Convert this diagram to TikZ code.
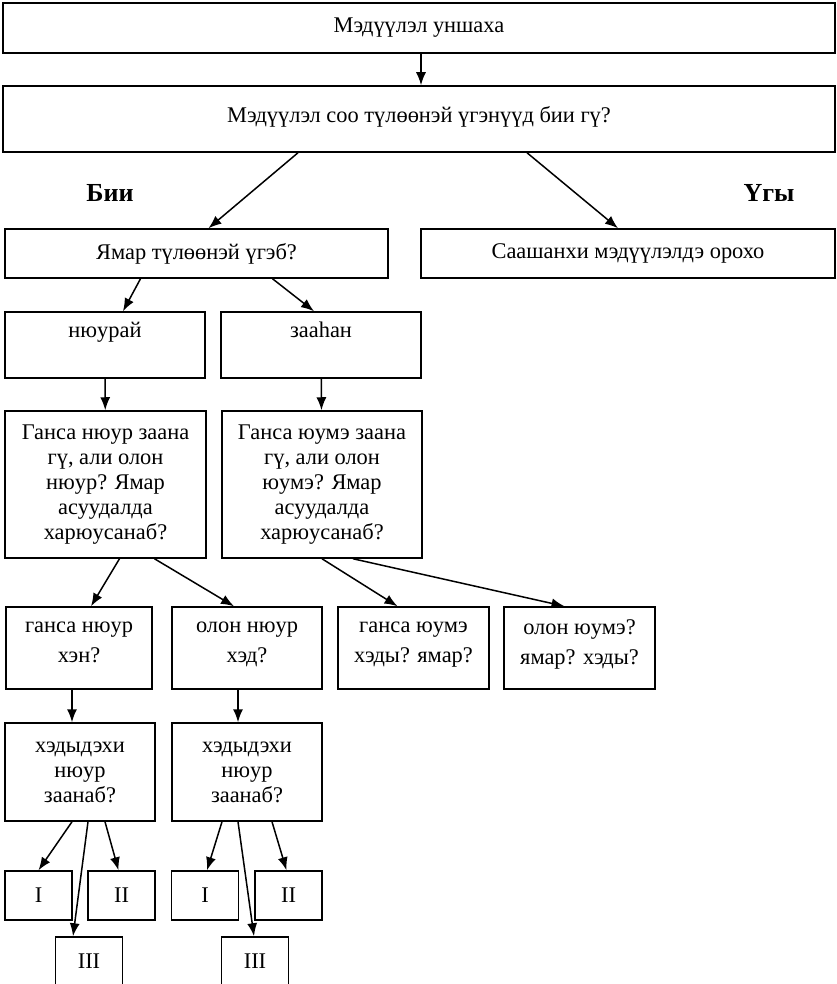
\documentclass[tikz,border=0pt]{standalone}
\usepackage{fontspec}
\setmainfont{Liberation Serif}
\usetikzlibrary{arrows.meta,positioning}

\begin{document}
\begin{tikzpicture}[x=1pt, y=-1pt, font=\fontsize{22.4}{25}\selectfont,
    box/.style={draw, line width=1.5pt, align=center, inner sep=2pt},
    lift/.style={text depth=#1},
    link/.style={line width=1.5pt, -{Latex[length=13pt,width=10pt]}}]

\useasboundingbox (0,0) rectangle (836,984);

% top of the chart
\node[box, minimum width=832pt, minimum height=50pt] (read) at (419,28) {Мэдүүлэл уншаха};
\node[box, minimum width=832pt, minimum height=66pt, lift=9pt] (hasq) at (419,119) {Мэдүүлэл соо түлөөнэй үгэнүүд бии гү?};

\node[font=\fontsize{26}{30}\selectfont\bfseries] (yes) at (110,193) {Бии};
\node[font=\fontsize{26}{30}\selectfont\bfseries] (no) at (769,193) {Үгы};

\node[box, minimum width=383pt, minimum height=49pt] (kind) at (196.5,253.5) {Ямар түлөөнэй үгэб?};
\node[box, minimum width=414pt, minimum height=49pt] (next) at (628,253.5) {Саашанхи мэдүүлэлдэ орохо};

% personal / demonstrative
\node[box, minimum width=200pt, minimum height=66pt, lift=30pt] (pers) at (105,345) {нюурай};
\node[box, minimum width=200pt, minimum height=66pt, lift=30pt] (dem) at (321,345) {зааһан};

\node[box, minimum width=201pt, minimum height=147pt] (pq) at (105.5,484.5)
    {Ганса нюур заана\\гү, али олон\\нюур? Ямар\\асуудалда\\харюусанаб?};
\node[box, minimum width=200pt, minimum height=147pt] (dq) at (322,484.5)
    {Ганса юумэ заана\\гү, али олон\\юумэ? Ямар\\асуудалда\\харюусанаб?};

% third row
\tikzset{pair/.style={box, minimum height=82pt, lift=12pt, font=\fontsize{22.4}{30}\selectfont}}
\node[pair, minimum width=146pt] (sg) at (79,648) {ганса нюур\\хэн?};
\node[pair, minimum width=150pt] (pl) at (247,648) {олон нюур\\хэд?};
\node[pair, minimum width=151pt] (so) at (413.5,648) {ганса юумэ\\хэды? ямар?};
\node[pair, minimum width=151pt] (po) at (579.5,648) {олон юумэ?\\ямар? хэды?};

\node[box, minimum width=150pt, minimum height=98pt] (ws) at (80,772) {хэдыдэхи\\нюур\\заанаб?};
\node[box, minimum width=150pt, minimum height=98pt] (wp) at (247,772) {хэдыдэхи\\нюур\\заанаб?};

% the persons
\foreach \g/\a/\b/\c in {s/38.5/121.5/89, p/205/288.5/255} {
    \node[box, minimum width=67pt, minimum height=49pt] (one\g) at (\a,895.5) {I};
    \node[box, minimum width=67pt, minimum height=49pt] (two\g) at (\b,895.5) {II};
    \node[box, minimum width=67pt, minimum height=49pt] (three\g) at (\c,961.5) {III};
}

% connectors
\draw[link] ([xshift=2pt]read.south) -- ([xshift=2pt]hasq.north);
\draw[link] ([xshift=-121pt]hasq.south) -- ([xshift=12pt]kind.north);
\draw[link] ([xshift=108pt]hasq.south) -- ([xshift=-10pt]next.north);
\draw[link] ([xshift=-56pt]kind.south) -- ([xshift=18pt]pers.north);
\draw[link] ([xshift=76pt]kind.south) -- ([xshift=-7pt]dem.north);
\draw[link] (pers) -- (pq);
\draw[link] (dem) -- (dq);
\draw[link] ([xshift=14pt]pq.south) -- ([xshift=12pt]sg.north);
\draw[link] ([xshift=49pt]pq.south) -- ([xshift=-13pt]pl.north);
\draw[link] (dq.south) -- ([xshift=-16pt]so.north);
\draw[link] ([xshift=31pt]dq.south) -- ([xshift=-15pt]po.north);
\draw[link] ([xshift=-7pt]sg.south) -- ([xshift=-8pt]ws.north);
\draw[link] ([xshift=-9pt]pl.south) -- ([xshift=-9pt]wp.north);
\draw[link] ([xshift=-8pt]ws.south) -- (ones.north);
\draw[link] ([xshift=8pt]ws.south) -- ([xshift=-16pt]threes.north);
\draw[link] ([xshift=25pt]ws.south) -- ([xshift=-3pt]twos.north);
\draw[link] ([xshift=-25pt]wp.south) -- ([xshift=2pt]onep.north);
\draw[link] ([xshift=-9pt]wp.south) -- ([xshift=-1pt]threep.north);
\draw[link] ([xshift=25pt]wp.south) -- ([xshift=-2pt]twop.north);
\end{tikzpicture}
\end{document}
